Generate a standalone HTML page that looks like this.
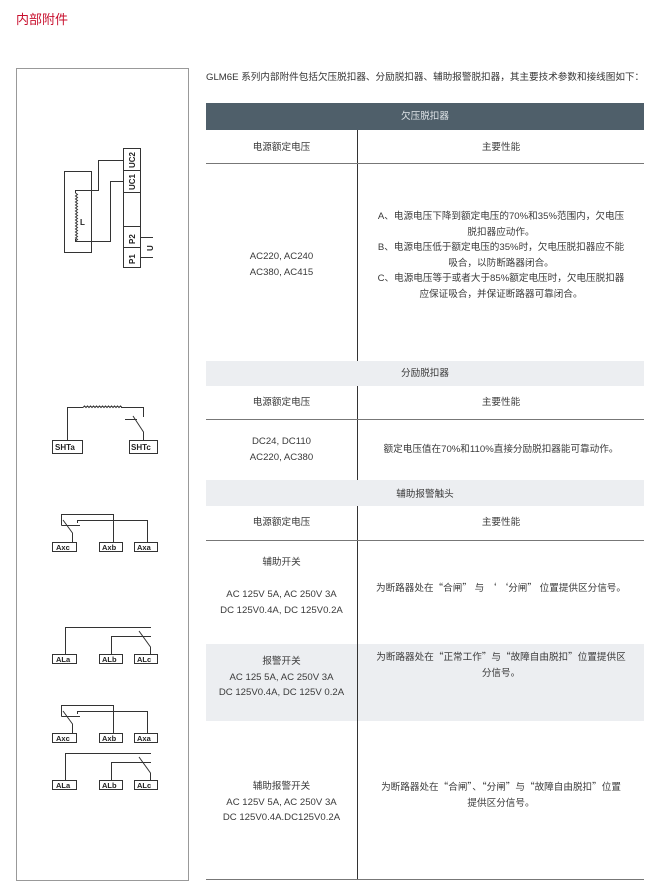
<!DOCTYPE html>
<html><head><meta charset="utf-8"><style>
*{margin:0;padding:0;box-sizing:border-box}
body{width:660px;height:896px;background:#fff;position:relative;overflow:hidden;font-family:"Liberation Sans","Noto Sans CJK SC",sans-serif;color:#3a3a3a}
.a{position:absolute}
.t{position:absolute;font-size:9.6px;line-height:15.5px;text-align:center;white-space:nowrap}
.h{position:absolute;left:206px;width:438px;height:1px;background:#777}
.g{position:absolute;left:206px;width:438px;background:#eceef1}
.q{font-family:"Noto Sans CJK SC",sans-serif}
</style></head><body>
<div class="a" style="left:16px;top:9px;font-size:13px;color:#c8102e">内部附件</div>
<div class="a" style="left:16px;top:68px;width:173px;height:813px;border:1px solid #999"></div>
<div class="a" style="left:206px;top:69px;font-size:9.6px;color:#333;white-space:nowrap">GLM6E 系列内部附件包括欠压脱扣器、分励脱扣器、辅助报警脱扣器，其主要技术参数和接线图如下：</div>

<div class="a" style="left:206px;top:103px;width:438px;height:27px;background:#4f5f6a"></div>
<div class="t" style="left:206px;width:438px;top:109px;color:#dfe4e8">欠压脱扣器</div>
<div class="g" style="top:361px;height:25px"></div>
<div class="g" style="top:480px;height:26px"></div>
<div class="g" style="top:644px;height:77px"></div>
<div class="a" style="left:357px;top:130px;width:1px;height:231px;background:#333"></div>
<div class="a" style="left:357px;top:386px;width:1px;height:94px;background:#333"></div>
<div class="a" style="left:357px;top:506px;width:1px;height:374px;background:#333"></div>
<div class="h" style="top:163px"></div>
<div class="h" style="top:419px"></div>
<div class="h" style="top:540px"></div>
<div class="h" style="top:879px"></div>

<div class="t" style="left:206px;width:151px;top:140px">电源额定电压</div>
<div class="t" style="left:358px;width:286px;top:140px">主要性能</div>
<div class="t" style="left:206px;width:151px;top:249px">AC220, AC240<br>AC380, AC415</div>
<div class="t" style="left:358px;width:286px;top:209px">A、电源电压下降到额定电压的70%和35%范围内，欠电压<br>脱扣器应动作。<br>B、电源电压低于额定电压的35%时，欠电压脱扣器应不能<br>吸合，以防断路器闭合。<br>C、电源电压等于或者大于85%额定电压时，欠电压脱扣器<br>应保证吸合，并保证断路器可靠闭合。</div>

<div class="t" style="left:206px;width:438px;top:366px">分励脱扣器</div>
<div class="t" style="left:206px;width:151px;top:395px">电源额定电压</div>
<div class="t" style="left:358px;width:286px;top:395px">主要性能</div>
<div class="t" style="left:206px;width:151px;top:434px">DC24, DC110<br>AC220, AC380</div>
<div class="t" style="left:358px;width:286px;top:442px">额定电压值在70%和110%直接分励脱扣器能可靠动作。</div>

<div class="t" style="left:206px;width:438px;top:487px">辅助报警触头</div>
<div class="t" style="left:206px;width:151px;top:515px">电源额定电压</div>
<div class="t" style="left:358px;width:286px;top:515px">主要性能</div>
<div class="t" style="left:206px;width:151px;top:555px">辅助开关</div>
<div class="t" style="left:206px;width:151px;top:587px">AC 125V 5A, AC 250V 3A<br>DC 125V0.4A, DC 125V0.2A</div>
<div class="t" style="left:358px;width:286px;top:580px">为断路器处在<span class="q">“</span>合闸<span class="q">”</span> 与 <span class="q">‘ ‘</span>分闸<span class="q">”</span> 位置提供区分信号。</div>

<div class="t" style="left:206px;width:151px;top:654px">报警开关<br>AC 125 5A, AC 250V 3A<br>DC 125V0.4A, DC 125V 0.2A</div>
<div class="t" style="left:358px;width:286px;top:649px">为断路器处在<span class="q">“</span>正常工作<span class="q">”</span>与<span class="q">“</span>故障自由脱扣<span class="q">”</span>位置提供区<br>分信号。</div>
<div class="t" style="left:206px;width:151px;top:779px">辅助报警开关<br>AC 125V 5A, AC 250V 3A<br>DC 125V0.4A.DC125V0.2A</div>
<div class="t" style="left:358px;width:286px;top:779px">为断路器处在<span class="q">“</span>合闸<span class="q">”</span>、<span class="q">“</span>分闸<span class="q">”</span>与<span class="q">“</span>故障自由脱扣<span class="q">”</span>位置<br>提供区分信号。</div>

<svg class="a" style="left:0;top:0" width="200" height="896" viewBox="0 0 200 896" fill="none" stroke="#333" stroke-width="1" font-family="Liberation Sans,Arial,sans-serif" font-size="8" font-weight="bold">
<rect x="123.5" y="148.5" width="17" height="119"/>
<line x1="123" y1="170.5" x2="140" y2="170.5"/><line x1="123" y1="192.5" x2="140" y2="192.5"/>
<line x1="123" y1="226.5" x2="140" y2="226.5"/><line x1="123" y1="247.5" x2="140" y2="247.5"/>
<g fill="#222" stroke="none">
<text transform="translate(135,168) rotate(-90)">UC2</text>
<text transform="translate(135,190) rotate(-90)">UC1</text>
<text transform="translate(135,244) rotate(-90)">P2</text>
<text transform="translate(135,264) rotate(-90)">P1</text>
<text transform="translate(153,251) rotate(-90)">U</text>
<text x="80" y="225">L</text>
</g>
<line x1="140" y1="237.5" x2="153" y2="237.5"/><line x1="140" y1="257.5" x2="153" y2="257.5"/>
<rect x="64.5" y="171.5" width="27" height="81"/>
<polyline points="123,160.5 98.5,160.5 98.5,190.5 75.5,190.5 75.5,193"/>
<polyline points="123,181.5 110.5,181.5 110.5,241.5 75.5,241.5 75.5,239"/>
<path d="M75.5 193 l2 1.5 l-2 1.5 l2 1.5 l-2 1.5 l2 1.5 l-2 1.5 l2 1.5 l-2 1.5 l2 1.5 l-2 1.5 l2 1.5 l-2 1.5 l2 1.5 l-2 1.5 l2 1.5 l-2 1.5 l2 1.5 l-2 1.5 l2 1.5 l-2 1.5 l2 1.5 l-2 1.5 l2 1.5 l-2 1.5 l2 1.5 l-2 1.5 l2 1.5 l-2 1.5 l2 1.5 l-2 1.5 l2 1.5 l-2 1.5"/>
<rect x="52.5" y="440.5" width="30" height="13"/><rect x="129.5" y="440.5" width="28" height="13"/>
<g fill="#222" stroke="none"><text x="55" y="450">SHTa</text><text x="131" y="450">SHTc</text></g>
<polyline points="67.5,440 67.5,407.5 83,407.5"/>
<path d="M83 407.5 l1.5 -1.5 l1.5 1.5 l1.5 -1.5 l1.5 1.5 l1.5 -1.5 l1.5 1.5 l1.5 -1.5 l1.5 1.5 l1.5 -1.5 l1.5 1.5 l1.5 -1.5 l1.5 1.5 l1.5 -1.5 l1.5 1.5 l1.5 -1.5 l1.5 1.5 l1.5 -1.5 l1.5 1.5 l1.5 -1.5 l1.5 1.5 l1.5 -1.5 l1.5 1.5 l1.5 -1.5 l1.5 1.5 l1.5 -1.5 l1.5 1.5"/>
<polyline points="121,407.5 143.5,407.5 143.5,417"/>
<line x1="125" y1="419.5" x2="137" y2="419.5"/>
<polyline points="133,416 143.5,432 143.5,440"/>
<g id="aux">
<rect x="52.5" y="542.5" width="24" height="9"/><rect x="99.5" y="542.5" width="23" height="9"/><rect x="134.5" y="542.5" width="23" height="9"/>
<g fill="#222" stroke="none" font-size="7.5"><text x="56" y="550">Axc</text><text x="102" y="550">Axb</text><text x="137" y="550">Axa</text></g>
<polyline points="61.5,525.5 61.5,514.5 113.5,514.5 113.5,542"/>
<line x1="61.5" y1="525.5" x2="80" y2="525.5"/>
<polyline points="77.5,523 77.5,520.5 147.5,520.5 147.5,542"/>
<polyline points="63,520 72.5,533 72.5,542"/>
</g>
<use href="#aux" transform="translate(0,191)"/>
<g id="al">
<rect x="52.5" y="654.5" width="24" height="9"/><rect x="99.5" y="654.5" width="23" height="9"/><rect x="134.5" y="654.5" width="23" height="9"/>
<g fill="#222" stroke="none" font-size="7.5"><text x="56" y="662">ALa</text><text x="102" y="662">ALb</text><text x="137" y="662">ALc</text></g>
<polyline points="65.5,654 65.5,627.5 151,627.5"/>
<polyline points="111.5,654 111.5,636.5 151,636.5"/>
<polyline points="139,631 150.5,647 150.5,654"/>
</g>
<use href="#al" transform="translate(0,126)"/>
</svg>
</body></html>
